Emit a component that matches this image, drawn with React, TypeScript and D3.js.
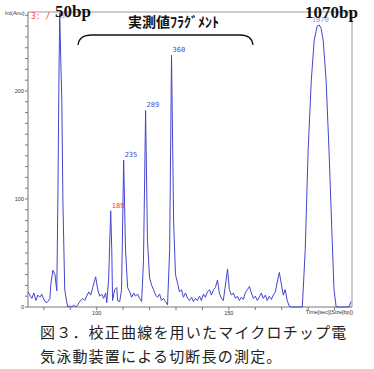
import { useMemo } from 'react';
import * as d3 from 'd3';

// Electropherogram: time (sec) vs intensity
const W = 374;
const H = 369;
const PLOT = { left: 28, right: 352, top: 12, bottom: 307 };

const TIME = [
  74.0, 74.7, 75.5, 76.2, 77.0, 77.7, 78.5, 79.2, 80.0, 80.8, 81.5, 82.3, 82.6, 83.4, 84.2, 84.9,
  85.3, 85.7, 86.0, 86.4, 86.8, 87.2, 87.9, 88.7, 89.1, 89.8, 90.6, 91.3, 92.1, 92.8, 93.6, 94.7,
  95.5, 96.2, 97.0, 97.7, 98.5, 99.6, 100.4, 101.1, 101.9, 102.6, 103.4, 103.8, 104.5, 105.3, 105.7,
  106.0, 106.8, 107.6, 107.9, 108.7, 109.4, 110.2, 110.9, 111.7, 112.5, 113.2, 114.0, 114.7, 115.5,
  116.2, 117.0, 117.7, 118.5, 119.2, 120.0, 120.8, 121.5, 122.3, 123.0, 123.8, 124.5, 125.3, 126.0,
  126.8, 127.6, 128.3, 129.1, 129.8, 130.6, 131.3, 132.1, 132.8, 133.6, 134.4, 135.1, 135.9, 136.6,
  137.4, 138.1, 138.9, 139.6, 140.4, 141.1, 141.9, 142.7, 143.4, 144.2, 144.9, 145.7, 146.4, 147.2,
  147.9, 148.7, 149.5, 150.2, 151.0, 151.7, 152.5, 153.2, 154.0, 154.7, 155.5, 156.2, 157.0, 157.8,
  158.5, 159.3, 160.0, 160.8, 161.5, 162.3, 163.0, 163.8, 164.5, 165.3, 166.1, 166.8, 167.6, 168.3,
  169.1, 169.8, 170.6, 171.3, 172.1, 172.8, 173.6, 177.8, 178.9, 180.0, 181.2, 182.3, 183.4, 184.2,
  184.9, 185.7, 186.8, 187.9, 189.1, 189.8, 190.6, 195.5, 196.2,
];

const SIGNAL = [
  14, 11, 8, 13, 6, 11, 9, 12, 7, 4, 5, 8, 20, 34, 30, 15,
  99, 210, 272, 229, 191, 99, 16, 4, 0, 1, 0, 2, 0, 2, 5, 8,
  6, 10, 14, 11, 18, 28, 16, 10, 12, 8, 13, 4, 25, 89, 53,
  6, 16, 18, 6, 5, 16, 136, 53, 18, 14, 9, 13, 10, 12,
  8, 5, 43, 182, 62, 27, 20, 16, 11, 9, 12, 6, 8, 5,
  2, 53, 233, 80, 30, 22, 14, 16, 9, 13, 8, 6, 9, 5,
  8, 6, 10, 6, 12, 9, 14, 16, 11, 16, 18, 25, 13, 8,
  6, 20, 35, 16, 11, 13, 8, 10, 6, 9, 7, 13, 16, 19,
  13, 8, 10, 6, 9, 13, 8, 11, 6, 10, 7, 11, 14, 23,
  32, 22, 11, 16, 6, 1, 0, 0, 53, 145, 210, 247, 260, 261,
  258, 247, 210, 145, 62, 16, 0, 0, 5,
];

const PEAK_TIME = [86.0, 105.3, 110.2, 118.5, 128.3, 184.2];
const PEAK_LABELS = ['50', '189', '235', '289', '360', '1070'];

const Y_TICKS = d3.range(0, 271, 10);
const Y_TICK_LABELS = [0, 100, 200];
const X_TICKS = d3.range(80, 197, 10);
const X_TICK_LABELS = [100, 150];

const CAPTION = ['図３．校正曲線を用いたマイクロチップ電', '気泳動装置による切断長の測定。'];

const peakColor = (label: string) =>
  label === '189' ? '#ff3030' : label === '50' || label === '1070' ? '#7f9dff' : '#4a4ad0';

export default function App() {
  const x = useMemo(() => d3.scaleLinear().domain([74, 196.6]).range([PLOT.left, PLOT.right]), []);
  const y = useMemo(() => d3.scaleLinear().domain([0, 273.1]).range([PLOT.bottom, PLOT.top]), []);

  const points = TIME.map((t, i) => [t, SIGNAL[i]] as [number, number]);
  const line = d3
    .line<[number, number]>()
    .x((d) => x(d[0]))
    .y((d) => y(d[1]));

  const peakValue = (t: number) => SIGNAL[TIME.indexOf(t)];
  const small = { fontFamily: 'Liberation Sans, Arial, sans-serif', fontSize: 5.5, fill: '#333' };

  return (
    <svg
      width={W}
      height={H}
      viewBox={`0 0 ${W} ${H}`}
      style={{ position: 'fixed', left: 0, top: 0, background: '#fff' }}
    >
      <rect width={W} height={H} fill="#fff" />
      {/* frame */}
      <line x1={PLOT.left} x2={PLOT.right} y1={PLOT.top} y2={PLOT.top} stroke="#999" />
      <line x1={PLOT.right} x2={PLOT.right} y1={PLOT.top} y2={PLOT.bottom} stroke="#999" />
      <line x1={PLOT.left} x2={PLOT.left} y1={PLOT.top} y2={PLOT.bottom} stroke="#777" />
      <line x1={PLOT.left} x2={PLOT.right} y1={PLOT.bottom} y2={PLOT.bottom} stroke="#777" />

      {Y_TICKS.map((v) => (
        <line key={`yt${v}`} x1={PLOT.left - 3} x2={PLOT.left} y1={y(v)} y2={y(v)} stroke="#777" />
      ))}
      {Y_TICK_LABELS.map((v) => (
        <text key={`yl${v}`} x={PLOT.left - 4} y={y(v)} dy="0.35em" textAnchor="end" {...small}>
          {v}
        </text>
      ))}
      {X_TICKS.map((t) => (
        <line key={`xt${t}`} x1={x(t)} x2={x(t)} y1={PLOT.bottom} y2={PLOT.bottom + 3} stroke="#777" />
      ))}
      {X_TICK_LABELS.map((t) => (
        <text key={`xl${t}`} x={x(t)} y={PLOT.bottom + 8} textAnchor="middle" {...small}>
          {t}
        </text>
      ))}
      <text x={5} y={15} {...small}>
        Int(Anu)
      </text>
      <text x={PLOT.right + 1} y={PLOT.bottom + 7} textAnchor="end" {...small}>
        Time[sec](Size[bp])
      </text>
      <text x={31} y={19} fontFamily="DejaVu Sans Mono, monospace" fontSize={8} fill="#ff4040">
        3: /
      </text>

      <path d={line(points) ?? ''} fill="none" stroke="#4545cc" strokeWidth={1} strokeLinejoin="round" />

      {PEAK_TIME.map((t, i) => (
        <text
          key={PEAK_LABELS[i]}
          x={x(t) + 1}
          y={Math.max(y(peakValue(t)) - 3, 18)}
          textAnchor={i === 5 ? 'middle' : 'start'}
          fontFamily="DejaVu Sans Mono, monospace"
          fontSize={7}
          fill={peakColor(PEAK_LABELS[i])}
        >
          {PEAK_LABELS[i]}
        </text>
      ))}

      {/* annotations */}
      <text x={55} y={17} fontFamily="Liberation Serif, serif" fontWeight="bold" fontSize={17} fill="#111">
        50bp
      </text>
      <text x={305} y={18} fontFamily="Liberation Serif, serif" fontWeight="bold" fontSize={17} fill="#111">
        1070bp
      </text>
      <text
        x={128}
        y={27}
        fontFamily="Noto Sans CJK JP, sans-serif"
        fontWeight="bold"
        fontSize={14}
        fill="#111"
      >
        実測値ﾌﾗｸﾞﾒﾝﾄ
      </text>
      <path
        d="M78,45 Q79,35 92,35 L240,35 Q252,35 253,45"
        fill="none"
        stroke="#111"
        strokeWidth={1.3}
      />

      {CAPTION.map((c, i) => (
        <text
          key={c}
          x={40}
          y={338 + i * 24}
          fontFamily="Noto Sans CJK JP, sans-serif"
          fontSize={15}
          letterSpacing={1.2}
          fill="#222"
        >
          {c}
        </text>
      ))}
    </svg>
  );
}
